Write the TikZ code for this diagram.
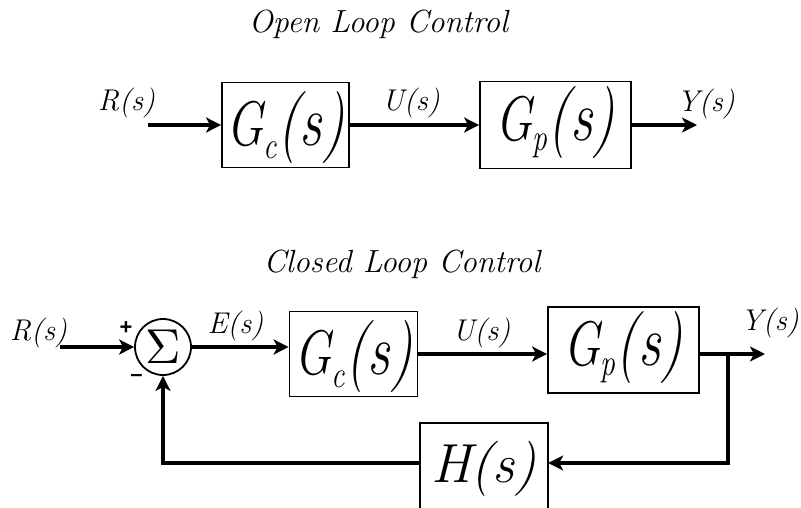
\documentclass[tikz,border=0pt]{standalone}
\usepackage{fontspec}
\newfontfamily\sgnfont{Liberation Sans}
\usepackage{graphicx}
\usetikzlibrary{arrows.meta}
\newcommand{\fsz}[1]{\fontsize{#1}{#1}\selectfont}
\newcommand{\Gblk}[2]{\scalebox{0.78}[1]{{\fsz{63}\itshape G}\raisebox{-#2}{\fsz{38}\itshape #1}{\fsz{72}\itshape (s)}}}
\begin{document}
\begin{tikzpicture}[x=1pt,y=-1pt,
  blk/.style={draw, line width=1.8pt, rectangle, inner sep=0pt, minimum height=85pt},
  sig/.style={line width=3.8pt, -{Stealth[length=15pt,width=15pt,inset=4pt]}},
  lab/.style={anchor=base, inner sep=0pt, font=\fsz{30}\itshape},
  ttl/.style={anchor=base, inner sep=0pt, font=\fsz{32}\itshape},
  sgn/.style={inner sep=0pt, font=\fsz{22}\sgnfont\bfseries}
  ]
\useasboundingbox (0,0) rectangle (801,507);
\clip (0,0) rectangle (801,507);
\fill[white] (0,0) rectangle (801,507);

% ---------- open loop ----------
\node[ttl] (t1) at (378.5,32) {Open Loop Control};
\node[blk, minimum width=127pt, text height=50pt, text depth=9pt] (gc1) at (285.5,125) {\Gblk{c}{13pt}};
\node[blk, minimum width=151pt, minimum height=87pt, text height=48pt, text depth=17pt] (gp1) at (555.5,125) {\Gblk{p}{10pt}};
\node[lab] (r1) at (126.5,110) {R(s)};
\node[lab] (u1) at (411,110) {U(s)};
\node[lab] (y1) at (706,111) {Y(s)};
\coordinate (rin1) at (148,125);
\coordinate (yout1) at (697,125);
\draw[sig] (rin1) -- (gc1.west);
\draw[sig] (gc1.east) -- (gp1.west);
\draw[sig] (gp1.east) -- (yout1);

% ---------- closed loop ----------
\node[ttl] (t2) at (402,272) {Closed Loop Control};
\node[draw, circle, line width=1.8pt, minimum size=56pt, inner sep=0pt] (sum) at (163,347) {\raisebox{1.5pt}{\scalebox{4.9}{$\Sigma$}}};
\node[blk, minimum width=128pt, text height=50pt, text depth=9pt] (gc2) at (353.5,354) {\Gblk{c}{13pt}};
\node[blk, minimum width=151pt, minimum height=86pt, text height=48pt, text depth=17pt] (gp2) at (623.5,350) {\Gblk{p}{10pt}};
\node[minimum width=128pt, minimum height=80pt, inner sep=0pt, text height=45pt, text depth=7pt, font=\fsz{55}\itshape] (h) at (484,463) {H(s)};
\draw[line width=1.8pt] ([yshift=-30pt]h.south west) -- (h.north west) -- (h.north east) -- ([yshift=-30pt]h.south east);

\node[lab] (r2) at (38.5,340) {R(s)};
\node[lab] (e2) at (235.5,333) {E(s)};
\node[lab] (u2) at (481.5,340) {U(s)};
\node[lab, anchor=base east] (y2) at (799,330) {Y(s)};
\node[sgn] (plus) at (126,328) {+};
\node[sgn] (minus) at (136.5,378) {–};

\coordinate (rin2) at (60,347);
\coordinate (br) at (728,354);
\coordinate (yout2) at (765,354);
\draw[sig] (rin2) -- (sum.west);
\draw[sig] (sum.east) -- (sum.east -| gc2.west);
\draw[sig] (gc2.east) -- (gc2.east -| gp2.west);
\draw[sig] (gp2.east |- br) -- (yout2);
\draw[sig] (br) |- (h.east);
\draw[sig] (h.west) -| (sum.south);
\end{tikzpicture}
\end{document}
